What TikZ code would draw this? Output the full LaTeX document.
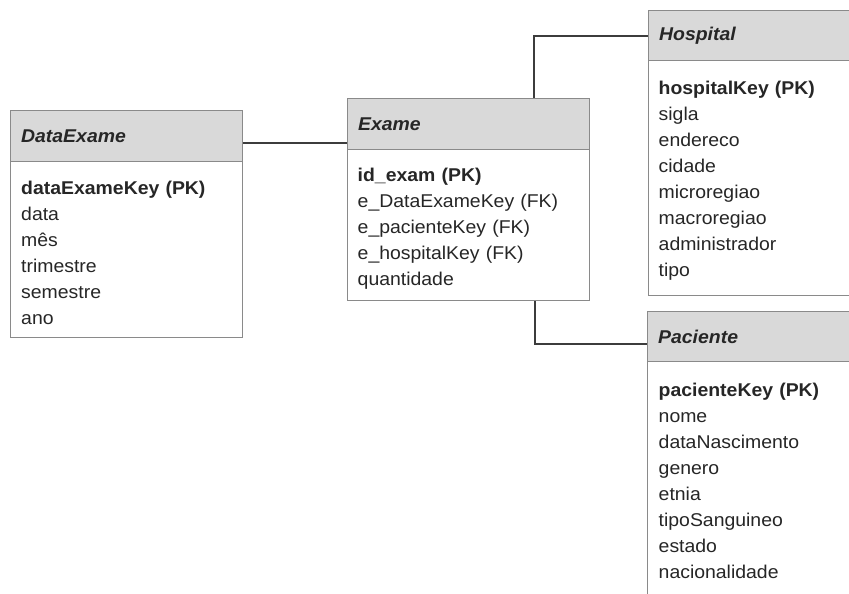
\documentclass[tikz,border=0pt]{standalone}
\usepackage{fontspec}
\setmainfont{Liberation Sans}[FakeStretch=1.05]
\definecolor{boxgray}{HTML}{8A8A8A}
\definecolor{headgray}{HTML}{D9D9D9}
\definecolor{linkgray}{HTML}{3C3C3C}
\definecolor{ink}{HTML}{262626}
\newcommand{\erfont}{\fontsize{18.5}{26}\selectfont}
\tikzset{
  tbl/.style={draw=boxgray, line width=1.3pt, inner sep=0pt, anchor=north west},
  tblhead/.style={tbl, fill=headgray, inner xsep=10.5pt, align=left,
    font=\erfont\bfseries\itshape, text=ink},
  tblbody/.style={tbl, fill=white},
  attrs/.style={anchor=base west, inner sep=0pt, align=left, text width=240pt,
    font=\erfont, text=ink},
  link/.style={draw=linkgray, line width=2pt},
}
\begin{document}
\begin{tikzpicture}[x=1pt, y=-1pt]
  \useasboundingbox (0,0) rectangle (849,594);
  \fill[white] (0,0) rectangle (849,594);
  \clip (0,0) rectangle (849,594);

  % DataExame
  \node[tblbody, minimum width=232pt, minimum height=176pt] (dataB) at (10,161) {};
  \node[tblhead, text width=211pt, minimum height=51pt] (dataH) at (10,110) {DataExame};
  \node[attrs] (dataA) at (21,194.5) {\textbf{dataExameKey (PK)}\\data\\mês\\trimestre\\semestre\\ano};

  % Exame
  \node[tblbody, minimum width=242pt, minimum height=151pt] (exameB) at (347,149) {};
  \node[tblhead, text width=221pt, minimum height=51pt] (exameH) at (347,98) {Exame};
  \node[attrs] (exameA) at (357.5,181.5) {\textbf{id\_exam (PK)}\\e\_DataExameKey (FK)\\e\_pacienteKey (FK)\\e\_hospitalKey (FK)\\quantidade};

  % Hospital
  \node[tblbody, minimum width=260pt, minimum height=235pt] (hospB) at (648,60) {};
  \node[tblhead, text width=239pt, minimum height=50pt] (hospH) at (648,10) {Hospital};
  \node[attrs] (hospA) at (658.5,95) {\textbf{hospitalKey (PK)}\\sigla\\endereco\\cidade\\microregiao\\macroregiao\\administrador\\tipo};

  % Paciente
  \node[tblbody, minimum width=260pt, minimum height=260pt] (pacB) at (647,361) {};
  \node[tblhead, text width=239pt, minimum height=50pt] (pacH) at (647,311) {Paciente};
  \node[attrs] (pacA) at (658.5,396.5) {\textbf{pacienteKey (PK)}\\nome\\dataNascimento\\genero\\etnia\\tipoSanguineo\\estado\\nacionalidade};

  % Relationships
  \coordinate (dataJ) at ([yshift=-6.5pt]dataH.east);
  \draw[link] (dataJ) -- (dataJ -| exameH.west);
  \draw[link] ([xshift=187pt]exameH.north west) |- (hospH.west);
  \draw[link] ([xshift=188pt]exameB.south west) |- ([yshift=-7pt]pacH.west);
\end{tikzpicture}
\end{document}
